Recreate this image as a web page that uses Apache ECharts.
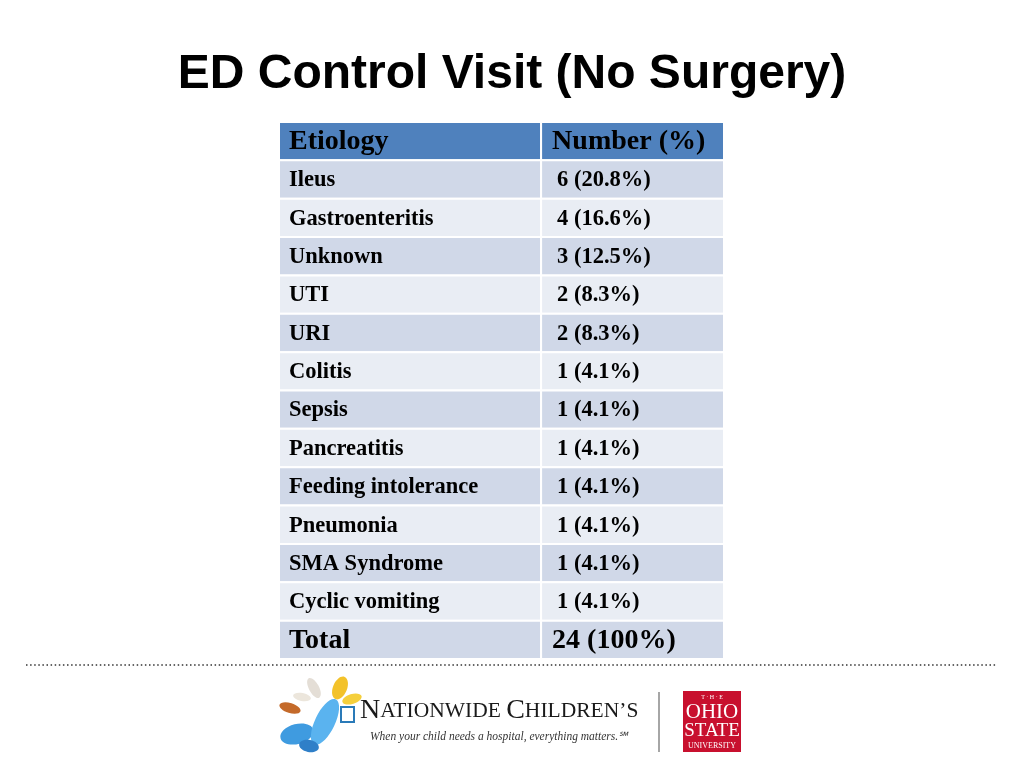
<!DOCTYPE html>
<html>
<head>
<meta charset="utf-8">
<title>ED Control Visit (No Surgery)</title>
<script src="https://cdn.jsdelivr.net/npm/echarts@6/dist/echarts.min.js"></script>
<style>
  html, body { margin: 0; padding: 0; background: #fff; }
  #main { width: 1024px; height: 768px; }
</style>
</head>
<body>
<div id="main"></div>
<script>
// table contents
var headers = ['Etiology', 'Number (%)'];
var etiologies = ['Ileus', 'Gastroenteritis', 'Unknown', 'UTI', 'URI', 'Colitis', 'Sepsis',
  'Pancreatitis', 'Feeding intolerance', 'Pneumonia', 'SMA Syndrome', 'Cyclic vomiting'];
var counts = [6, 4, 3, 2, 2, 1, 1, 1, 1, 1, 1, 1];
var percents = ['20.8', '16.6', '12.5', '8.3', '8.3', '4.1', '4.1', '4.1', '4.1', '4.1', '4.1', '4.1'];
var totalLabel = 'Total';
var totalCount = 24;
var totalPercent = '100';

// one category per table row: header, data rows, total
var rowNames = [headers[0]].concat(etiologies).concat([totalLabel]);
var rowValues = [headers[1]];
for (var i = 0; i < etiologies.length; i++) {
  rowValues.push(counts[i] + ' (' + percents[i] + '%)');
}
rowValues.push(totalCount + ' (' + totalPercent + '%)');

var lastRow = rowNames.length - 1;
var serif = '"Liberation Serif", "Times New Roman", serif';

function renderRow(params, api) {
  var idx = params.dataIndex;
  var cs = params.coordSys;
  var center = api.coord([0, api.value(1)]);
  var h = api.size([0, 1])[1];
  var top = center[1] - h / 2;
  var split = cs.x + cs.width * 0.589;
  var fill = idx === 0 ? '#4F81BD' : (idx % 2 === 1 ? '#D0D8E8' : '#E9EDF4');
  var big = idx === 0 || idx === lastRow;
  var size = big ? 28 : 22.5;
  var pad2 = big ? 11 : 16;
  return {
    type: 'group',
    children: [
      { type: 'rect', shape: { x: cs.x, y: top, width: split - cs.x, height: h },
        style: { fill: fill, stroke: '#fff', lineWidth: 2 } },
      { type: 'rect', shape: { x: split, y: top, width: cs.x + cs.width - split, height: h },
        style: { fill: fill, stroke: '#fff', lineWidth: 2 } },
      { type: 'text', x: cs.x + 10, y: center[1] + 1,
        style: { text: rowNames[idx], fill: '#000', font: 'bold ' + size + 'px ' + serif,
          verticalAlign: 'middle', align: 'left' } },
      { type: 'text', x: split + pad2, y: center[1] + 1,
        style: { text: rowValues[idx], fill: '#000', font: 'bold ' + size + 'px ' + serif,
          verticalAlign: 'middle', align: 'left' } }
    ]
  };
}

// small helper for the logo wings
function wing(x, y, rx, ry, rot, color) {
  return { type: 'ellipse', x: x, y: y, rotation: rot,
    shape: { cx: 0, cy: 0, rx: rx, ry: ry }, style: { fill: color } };
}

var chart = echarts.init(document.getElementById('main'));
var option = {
  backgroundColor: '#fff',
  animation: false,
  title: {
    text: 'ED Control Visit (No Surgery)',
    left: 'center',
    top: 46,
    textStyle: {
      fontSize: 48,
      fontWeight: 'bold',
      color: '#000',
      fontFamily: '"Liberation Sans", Arial, sans-serif'
    }
  },
  grid: { left: 279, right: 300, top: 122, bottom: 109 },
  xAxis: { type: 'value', min: 0, max: 1, show: false },
  yAxis: { type: 'category', data: rowNames, inverse: true, show: false },
  series: [{
    type: 'custom',
    renderItem: renderRow,
    data: rowNames.map(function (n, i) { return [0, i]; }),
    encode: { x: 0, y: 1 },
    silent: true
  }],
  graphic: [
    // dotted divider
    { type: 'line', shape: { x1: 26, y1: 665, x2: 996, y2: 665 },
      style: { stroke: '#333', lineWidth: 1.5, lineDash: [1.5, 2.6] } },
    // butterflies (rough)
    wing(314, 688, 5, 11, 0.5, '#e4ded6'),
    wing(302, 697, 9, 4, -0.2, '#ece6dc'),
    wing(290, 708, 11, 5, -0.3, '#c46a2a'),
    wing(340, 688, 7, 12, -0.4, '#f3c22a'),
    wing(352, 699, 10, 5, 0.3, '#f5cf3c'),
    wing(297, 734, 17, 10, 0.25, '#3f9be0'),
    wing(325, 722, 10, 25, -0.45, '#5ab3ef'),
    wing(309, 746, 10, 6, -0.2, '#2f7fc8'),
    // square icon
    { type: 'rect', shape: { x: 341, y: 707, width: 13, height: 15 },
      style: { fill: '#fff', stroke: '#2a7ab8', lineWidth: 2 } },
    // Nationwide Children's wordmark
    { type: 'text', x: 360, y: 725,
      style: {
        text: '{b|N}{s|ATIONWIDE }{b|C}{s|HILDREN\u2019S}',
        verticalAlign: 'bottom',
        rich: {
          b: { fontFamily: serif, fontSize: 28, fill: '#1a1a1a', color: '#1a1a1a' },
          s: { fontFamily: serif, fontSize: 21.5, fill: '#1a1a1a', color: '#1a1a1a' }
        }
      } },
    { type: 'text', x: 370, y: 737,
      style: { text: 'When your child needs a hospital, everything matters.\u2120',
        font: 'italic 11.5px ' + serif, fill: '#333', verticalAlign: 'middle' } },
    // separator
    { type: 'line', shape: { x1: 659, y1: 692, x2: 659, y2: 752 },
      style: { stroke: '#888', lineWidth: 1.5 } },
    // Ohio State block
    { type: 'rect', shape: { x: 683, y: 691, width: 58, height: 61 },
      style: { fill: '#C8102E' } },
    { type: 'text', x: 712, y: 697,
      style: { text: 'T \u00b7 H \u00b7 E', font: '6px ' + serif, fill: '#fff',
        align: 'center', verticalAlign: 'middle' } },
    { type: 'text', x: 712, y: 712,
      style: { text: 'OHIO', font: '21px ' + serif, fill: '#fff',
        align: 'center', verticalAlign: 'middle' } },
    { type: 'text', x: 712, y: 731,
      style: { text: 'STATE', font: '19px ' + serif, fill: '#fff',
        align: 'center', verticalAlign: 'middle' } },
    { type: 'text', x: 712, y: 746,
      style: { text: 'UNIVERSITY', font: '8px ' + serif, fill: '#fff',
        align: 'center', verticalAlign: 'middle' } }
  ]
};
chart.setOption(option);
</script>
</body>
</html>
